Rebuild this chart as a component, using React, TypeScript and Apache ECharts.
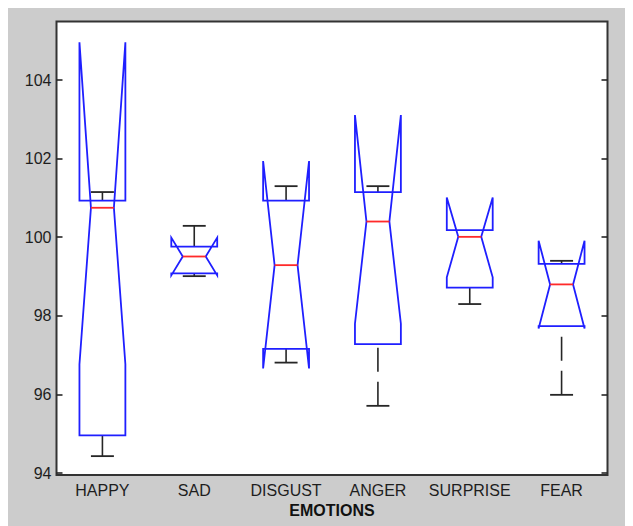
import React, { useEffect, useRef } from 'react';
import * as echarts from 'echarts';

const categories = ['HAPPY', 'SAD', 'DISGUST', 'ANGER', 'SURPRISE', 'FEAR'];
const whiskerLow = [94.43, 99.01, 96.81, 95.71, 98.3, 95.99];
const q1 = [94.96, 99.08, 97.16, 97.28, 98.72, 97.74];
const notchLow = [96.77, 99.03, 96.66, 97.8, 98.98, 97.68];
const median = [100.75, 99.51, 99.29, 100.4, 100.01, 98.8];
const notchHigh = [104.96, 99.99, 101.94, 103.11, 101.01, 99.91];
const q3 = [100.93, 99.76, 100.93, 101.15, 100.18, 99.32];
const whiskerHigh = [101.15, 100.29, 101.3, 101.3, 100.18, 99.4];
const yTicks = [94, 96, 98, 100, 102, 104];
const yMin = 93.95;
const yMax = 105.49;

const BLUE = '#1f1fff';
const RED = '#ff2a2a';
const BLACK = '#262626';
const FONT = 'Liberation Sans, Arial, sans-serif';

export default function App() {
  const ref = useRef<HTMLDivElement>(null);
  useEffect(() => {
    const chart = echarts.init(ref.current as HTMLDivElement, null, { renderer: 'svg' });
    const data = categories.map((_, i) => [
      i, whiskerLow[i], q1[i], notchLow[i], median[i], notchHigh[i], q3[i], whiskerHigh[i],
    ]);
    const renderItem = (params: any, api: any) => {
      const idx = api.value(0);
      const band = api.size([1, 0])[0];
      const w = band * 0.25;
      const nw = band * 0.125;
      const cx = api.coord([idx, 100])[0];
      const Y = (v: number) => api.coord([idx, v])[1];
      const wl = api.value(1), b1 = api.value(2), nlo = api.value(3), med = api.value(4);
      const nhi = api.value(5), b3 = api.value(6), wh = api.value(7);
      const children: any[] = [];
      const wStyle = { stroke: BLACK, lineWidth: 1.6, lineDash: [24, 10] };
      const cStyle = { stroke: BLACK, lineWidth: 1.8 };
      if (wh > b3) {
        children.push({ type: 'line', shape: { x1: cx, y1: Y(wh), x2: cx, y2: Y(b3) }, style: wStyle });
        children.push({ type: 'line', shape: { x1: cx - nw, y1: Y(wh), x2: cx + nw, y2: Y(wh) }, style: cStyle });
      }
      if (wl < b1) {
        children.push({ type: 'line', shape: { x1: cx, y1: Y(wl), x2: cx, y2: Y(b1) }, style: wStyle });
        children.push({ type: 'line', shape: { x1: cx - nw, y1: Y(wl), x2: cx + nw, y2: Y(wl) }, style: cStyle });
      }
      children.push({
        type: 'polygon',
        shape: {
          points: [
            [cx - w, Y(b1)], [cx - w, Y(nlo)], [cx - nw, Y(med)], [cx - w, Y(nhi)], [cx - w, Y(b3)],
            [cx + w, Y(b3)], [cx + w, Y(nhi)], [cx + nw, Y(med)], [cx + w, Y(nlo)], [cx + w, Y(b1)],
          ],
        },
        style: { fill: 'none', stroke: BLUE, lineWidth: 1.8 },
      });
      children.push({
        type: 'line',
        shape: { x1: cx - nw, y1: Y(med), x2: cx + nw, y2: Y(med) },
        style: { stroke: RED, lineWidth: 1.8 },
      });
      return { type: 'group', children };
    };
    const tickCommon = {
      show: true, inside: true, length: 6, customValues: yTicks,
      lineStyle: { color: BLACK, width: 1.6 },
    };
    chart.setOption({
      animation: false,
      backgroundColor: '#cccccc',
      grid: {
        left: 48.5, right: 25.5, top: 13.5, bottom: 51,
        outerBoundsMode: 'none', containLabel: false,
        show: true, backgroundColor: '#ffffff', borderColor: '#333333', borderWidth: 2,
      },
      xAxis: {
        type: 'category', data: categories, boundaryGap: true,
        axisLine: { show: false }, axisTick: { show: false }, splitLine: { show: false },
        axisLabel: { interval: 0, color: '#1e1e1e', fontSize: 16, fontFamily: FONT, margin: 7 },
        name: 'EMOTIONS', nameLocation: 'middle', nameGap: 27,
        nameTextStyle: { color: '#111', fontSize: 16, fontWeight: 'bold', fontFamily: FONT },
      },
      yAxis: [
        {
          type: 'value', min: yMin, max: yMax, position: 'left',
          axisLine: { show: false }, splitLine: { show: false }, axisTick: tickCommon,
          axisLabel: { customValues: yTicks, color: '#1e1e1e', fontSize: 16, margin: 5, fontFamily: FONT },
        },
        {
          type: 'value', min: yMin, max: yMax, position: 'right',
          axisLine: { show: false }, splitLine: { show: false }, axisTick: tickCommon,
          axisLabel: { show: false },
        },
      ],
      series: [
        { type: 'custom', renderItem, data, encode: { x: 0, y: [1, 7] }, z: 10, silent: true },
      ],
    });
    return () => chart.dispose();
  }, []);
  return <div ref={ref} style={{ width: 625, height: 518 }} />;
}
